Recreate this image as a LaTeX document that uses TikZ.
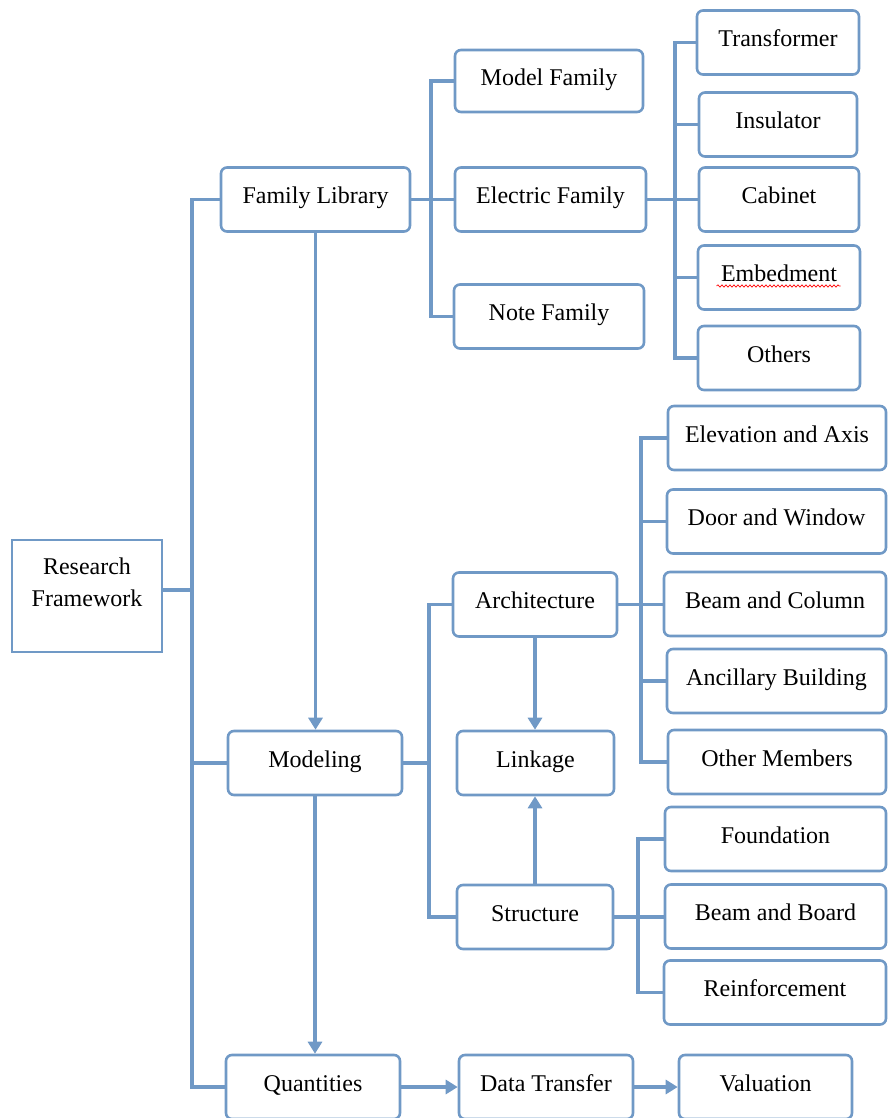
\documentclass[tikz,border=0pt]{standalone}
\usepackage{fontspec}
\setmainfont{Liberation Serif}
\usetikzlibrary{arrows.meta,decorations.pathmorphing}
\definecolor{frame}{RGB}{112,153,198}

\begin{document}
\begin{tikzpicture}[x=1pt, y=-1pt,
		box/.style={draw=frame, line width=2.6pt, rounded corners=6pt, fill=white, inner sep=0pt,
			text height=36pt, text depth=28pt, minimum width=#1, font=\fontsize{24}{28}\selectfont},
		conn/.style={draw=frame, line width=3.2pt},
		arr/.style={conn, -{Triangle[width=14pt,length=12pt]}}]
		\useasboundingbox (0,0) rectangle (887,1118);
		
		% Root
		\node[draw=frame, line width=2.6pt, fill=white, inner sep=0pt, minimum width=150pt, align=center,
			text height=66pt, text depth=46pt, font=\fontsize{24}{32}\selectfont] (rf) at (87,596) {Research\\Framework};
		
		% Main column
		\node[box=189pt] (famlib) at (315.5,199.5) {Family Library};
		\node[box=174pt] (model) at (315,763) {Modeling};
		\node[box=174pt] (quant) at (313,1087) {Quantities};
		
		% Family library
		\node[box=188pt, text depth=26pt] (modfam) at (549,81) {Model Family};
		\node[box=191pt] (elecfam) at (550.5,199.5) {Electric Family};
		\node[box=190pt] (notefam) at (549,316.5) {Note Family};
		
		\node[box=162pt] (trans) at (778,42.5) {Transformer};
		\node[box=158pt] (insul) at (778,124.5) {Insulator};
		\node[box=160pt] (cabin) at (779,199.5) {Cabinet};
		\node[box=162pt] (embed) at (779,277.5) {Embedment};
		\node[box=162pt] (others) at (779,358) {Others};
		
		% Modeling
		\node[box=164pt] (arch) at (535,604.5) {Architecture};
		\node[box=157pt] (link) at (535.5,763) {Linkage};
		\node[box=156pt] (struct) at (535,917) {Structure};
		
		\node[box=218pt] (elev) at (777,438) {Elevation and Axis};
		\node[box=219pt] (door) at (776.5,521.5) {Door and Window};
		\node[box=222pt] (beamcol) at (775,604) {Beam and Column};
		\node[box=219pt] (ancil) at (776.5,681) {Ancillary Building};
		\node[box=218pt] (othmem) at (777,762) {Other Members};
		
		\node[box=221pt] (found) at (775.5,839) {Foundation};
		\node[box=221pt] (beamboard) at (775.5,916.5) {Beam and Board};
		\node[box=222pt] (reinf) at (775,992.5) {Reinforcement};
		
		% Output
		\node[box=174pt] (datatr) at (546,1087) {Data Transfer};
		\node[box=173pt] (valu) at (765.5,1087) {Valuation};
		
		% spell check mark
		\draw[red, line width=0.7pt, decorate, decoration={snake, amplitude=1.2pt, segment length=4pt}]
			([xshift=20pt, yshift=-8.5pt]embed.west) -- ([xshift=144pt, yshift=-8.5pt]embed.west);
		
		% Trunks
		\coordinate (t1) at (192,0);
		\coordinate (t2) at (431,0);
		\coordinate (t3) at (675,0);
		\coordinate (t4) at (429,0);
		\coordinate (t5) at (641,0);
		\coordinate (t6) at (638,0);
		
		% Connectors
		\draw[conn] ([yshift=6pt]rf.east) -- ([yshift=6pt]rf.east -| t1);
		\draw[conn] (famlib.west) -| (t1 |- quant.west) -- (quant.west);
		\draw[conn] (model.west) -- (model.west -| t1);
		
		\draw[conn] (modfam.west) -| (t2 |- notefam.west) -- (notefam.west);
		\draw[conn] (famlib.east) -- (elecfam.west);
		
		\draw[conn] (trans.west) -| (t3 |- others.west) -- (others.west);
		\draw[conn] (elecfam.east) -- (cabin.west);
		\foreach \n in {insul,embed}
		\draw[conn] (t3 |- \n.west) -- (\n.west);
		
		\draw[conn] (arch.west) -| (t4 |- struct.west) -- (struct.west);
		\draw[conn] (model.east) -- (model.east -| t4);
		
		\draw[conn] (elev.west) -| (t5 |- othmem.west) -- (othmem.west);
		\draw[conn] (arch.east) -- (arch.east -| beamcol.west);
		\foreach \n in {door,ancil}
		\draw[conn] (t5 |- \n.west) -- (\n.west);
		
		\draw[conn] (found.west) -| (t6 |- reinf.west) -- (reinf.west);
		\draw[conn] (struct.east) -- (struct.east -| beamboard.west);
		
		% Arrows
		\draw[arr] (famlib.south) -- (famlib.south |- model.north);
		\draw[arr] (model.south) -- (model.south |- quant.north);
		\draw[arr] (arch.south) -- (arch.south |- link.north);
		\draw[arr] (struct.north) -- (struct.north |- link.south);
		\draw[arr] (quant.east) -- (datatr.west);
		\draw[arr] (datatr.east) -- (valu.west);
	\end{tikzpicture}
\end{document}
